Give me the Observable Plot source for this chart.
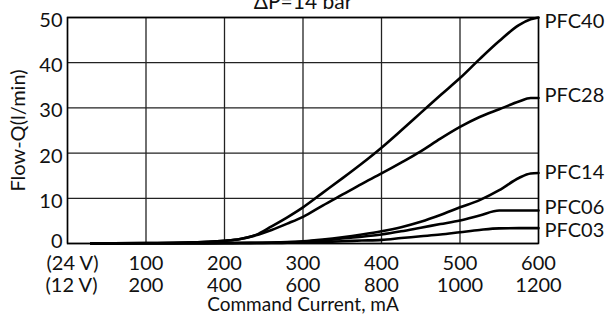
<!DOCTYPE html>
<html><head><meta charset="utf-8">
<script src="https://cdn.jsdelivr.net/npm/d3@7"></script>
<script src="https://cdn.jsdelivr.net/npm/@observablehq/plot@0.6"></script>
<style>html,body{margin:0;padding:0;background:#fff}</style>
</head><body><div id="chart"></div>
<script>
const current = [30,100,150,200,220,240,260,280,300,325,350,375,400,425,450,475,500,525,550,575,590,600];
const pfc40 = [0,0.1,0.2,0.6,1.0,1.9,3.8,5.8,8.0,11.2,14.4,17.7,21.2,25.0,28.9,32.8,36.6,40.8,44.8,48.3,49.6,50];
const pfc28 = [0,0.1,0.2,0.6,1.0,1.8,3.0,4.4,5.9,8.4,10.8,13.2,15.5,17.9,20.4,23.2,25.8,28.0,29.7,31.4,32.2,32.2];
const pfc14 = [0,0.05,0.05,0.1,0.1,0.15,0.2,0.3,0.5,0.9,1.4,2.0,2.7,3.6,4.8,6.3,8.0,9.6,11.8,14.5,15.5,15.6];
const pfc06 = [0,0.05,0.05,0.1,0.1,0.1,0.15,0.25,0.4,0.7,1.1,1.5,2.0,2.7,3.5,4.3,5.1,6.2,7.3,7.3,7.3,7.3];
const pfc03 = [0,0.05,0.05,0.05,0.1,0.1,0.1,0.15,0.2,0.35,0.5,0.65,0.8,1.2,1.6,2.0,2.5,3.0,3.35,3.4,3.4,3.4];
const seriesNames = ["PFC40","PFC28","PFC14","PFC06","PFC03"];
const seriesValues = [pfc40,pfc28,pfc14,pfc06,pfc03];
const xTicks = [0,100,200,300,400,500,600];
const xLabels24 = ["(24 V)","100","200","300","400","500","600"];
const xLabels12 = ["(12 V)","200","400","600","800","1000","1200"];
const yTicks = [0,10,20,30,40,50];
const titleText = "ΔP=14 bar";
const xTitle = "Command Current, mA";
const yTitle = "Flow-Q(l/min)";

const rows = seriesNames.flatMap((name, s) => current.map((c, i) => ({name, current: c, flow: seriesValues[s][i]})));
const ends = seriesNames.map((name, s) => ({name, current: current[current.length - 1], flow: seriesValues[s][current.length - 1]}));

// small vertical nudges of the right-hand curve labels (pixels)
const labelNudge = {PFC40: 4, PFC28: -2, PFC14: 0, PFC06: -2.5, PFC03: 2};

const fmt24 = d => xLabels24[xTicks.indexOf(d)];
const fmt12 = d => xLabels12[xTicks.indexOf(d)];
const firstX = xTicks.slice(0, 1), restX = xTicks.slice(1);
const firstY = yTicks.slice(0, 1), restY = yTicks.slice(1);

const font = "Lato, 'Open Sans', sans-serif";
const chart = Plot.plot({
  width: 607, height: 314,
  marginLeft: 67, marginRight: 69, marginTop: 17, marginBottom: 71,
  style: {fontFamily: font, fontSize: "20px", color: "#111", background: "#fff", overflow: "visible"},
  x: {domain: [0, 600]},
  y: {domain: [0, 50]},
  marks: [
    Plot.gridX(xTicks, {stroke: "#222", strokeOpacity: 1, strokeWidth: 1.3}),
    Plot.gridY(yTicks, {stroke: "#222", strokeOpacity: 1, strokeWidth: 1.3}),
    Plot.frame({stroke: "#000", strokeWidth: 1.5}),
    Plot.line(rows, {x: "current", y: "flow", z: "name", curve: "monotone-x", stroke: "#000", strokeWidth: 2.6}),
    Plot.axisY(restY, {tickSize: 0, tickPadding: 5, dy: 3, label: null, fontSize: 20}),
    Plot.axisY(firstY, {tickSize: 0, tickPadding: 5, dy: -1.5, label: null, fontSize: 20}),
    Plot.axisX(restX, {tickSize: 0, tickPadding: 12, label: null, fontSize: 20, tickFormat: fmt24}),
    Plot.axisX(firstX, {tickSize: 0, tickPadding: 12, dx: 5, label: null, fontSize: 20, tickFormat: fmt24}),
    Plot.axisX(restX, {tickSize: 0, tickPadding: 34, label: null, fontSize: 20, tickFormat: fmt12}),
    Plot.axisX(firstX, {tickSize: 0, tickPadding: 34, dx: 4, label: null, fontSize: 20, tickFormat: fmt12}),
    ...ends.map(e => Plot.text([e], {x: "current", y: "flow", text: "name", textAnchor: "start", dx: 6, dy: labelNudge[e.name], fontSize: 20, fill: "#111"})),
    Plot.text([titleText], {frameAnchor: "top", textAnchor: "middle", lineAnchor: "middle", dy: -15.4, fontSize: 21, fill: "#111", letterSpacing: "2px"}),
    Plot.text([xTitle], {frameAnchor: "bottom", textAnchor: "middle", lineAnchor: "middle", dy: 61.5, fontSize: 19, fill: "#111", letterSpacing: "2px"}),
    Plot.text([yTitle], {frameAnchor: "left", textAnchor: "middle", lineAnchor: "middle", rotate: -90, dx: -48.6, fontSize: 20, fill: "#111", letterSpacing: "1.8px"})
  ]
});
document.getElementById("chart").append(chart);
</script>
</body></html>
